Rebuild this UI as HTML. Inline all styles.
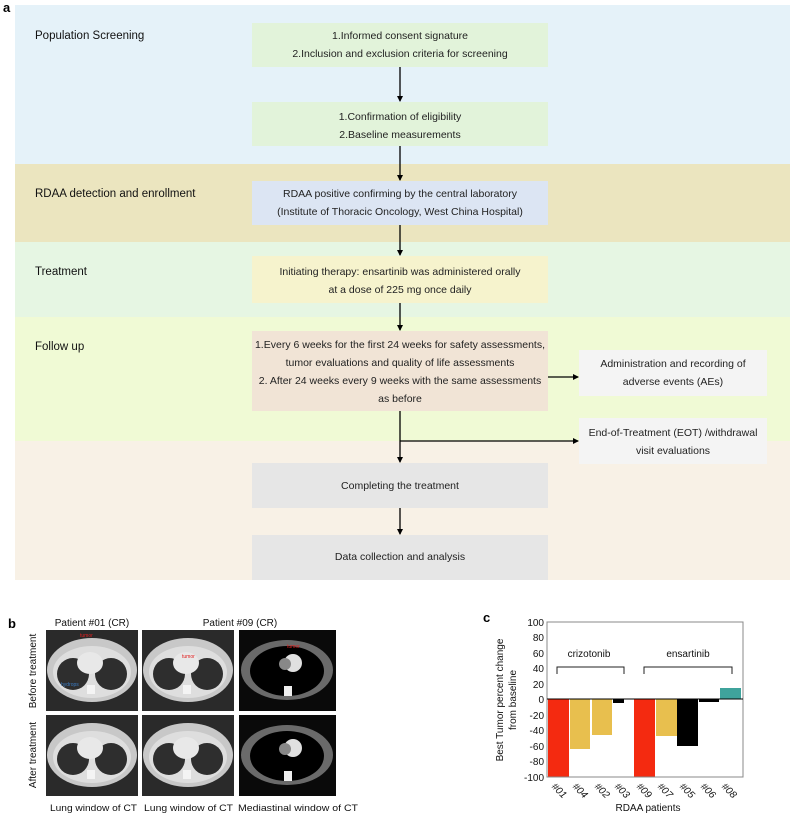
<!DOCTYPE html>
<html><head><meta charset="utf-8"><style>
html,body{margin:0;padding:0;background:#fff;}
svg{display:block;font-family:"Liberation Sans",Arial,sans-serif;}
</style></head><body>
<svg width="790" height="815" viewBox="0 0 790 815" xmlns="http://www.w3.org/2000/svg">
<defs>
<marker id="ah" markerWidth="6" markerHeight="6" refX="5" refY="3" orient="auto" markerUnits="userSpaceOnUse"><path d="M0,0 L6,3 L0,6 z" fill="#000"/></marker>
<g id="ctL">
 <rect x="0" y="0" width="92" height="81" fill="#2a2a2a"/>
 <ellipse cx="46" cy="40" rx="45" ry="32" fill="#c8c8c8"/>
 <ellipse cx="46" cy="42" rx="39" ry="26" fill="#dedede"/>
 <ellipse cx="27" cy="44" rx="16" ry="16" fill="#2e2e2e"/>
 <ellipse cx="65" cy="44" rx="16" ry="16" fill="#2e2e2e"/>
 <ellipse cx="44" cy="33" rx="13" ry="11" fill="#e8e8e8"/>
 <rect x="41" y="55" width="8" height="9" fill="#f4f4f4"/>
</g>
<g id="ctM">
 <rect x="0" y="0" width="97" height="81" fill="#0a0a0a"/>
 <ellipse cx="48" cy="40" rx="46" ry="30" fill="#6a6a6a"/>
 <ellipse cx="48" cy="41" rx="37" ry="25" fill="#000"/>
 <ellipse cx="54" cy="33" rx="9" ry="9" fill="#e0e0e0"/>
 <ellipse cx="46" cy="34" rx="6" ry="6" fill="#888"/>
 <rect x="45" y="56" width="8" height="10" fill="#eee"/>
</g>
</defs>
<text x="3" y="12" font-size="13" font-weight="bold">a</text>
<rect x="15" y="5" width="775" height="159" fill="#e5f2f9"/>
<rect x="15" y="164" width="775" height="78" fill="#ebe5bf"/>
<rect x="15" y="242" width="775" height="75" fill="#e6f6e3"/>
<rect x="15" y="317" width="775" height="124" fill="#f0fad5"/>
<rect x="15" y="441" width="775" height="139" fill="#f8f1e6"/>
<g font-size="11.5" fill="#111">
<text x="35" y="39">Population Screening</text>
<text x="35" y="197">RDAA detection and enrollment</text>
<text x="35" y="275">Treatment</text>
<text x="35" y="350">Follow up</text>
</g>
<rect x="252" y="23" width="296" height="44" fill="#e2f3da"/>
<rect x="252" y="102" width="296" height="44" fill="#e2f3da"/>
<rect x="252" y="181" width="296" height="44" fill="#dce5f3"/>
<rect x="252" y="256" width="296" height="47" fill="#f6f3cd"/>
<rect x="252" y="331" width="296" height="80" fill="#f1e4d6"/>
<rect x="252" y="463" width="296" height="45" fill="#e6e6e6"/>
<rect x="252" y="535" width="296" height="45" fill="#e6e6e6"/>
<rect x="579" y="350" width="188" height="46" fill="#f4f4f4"/>
<rect x="579" y="418" width="188" height="46" fill="#f4f4f4"/>
<g font-size="10.5" fill="#222" text-anchor="middle">
<text x="400" y="39">1.Informed consent signature</text>
<text x="400" y="57">2.Inclusion and exclusion criteria for screening</text>
<text x="400" y="120">1.Confirmation of eligibility</text>
<text x="400" y="138">2.Baseline measurements</text>
<text x="400" y="197">RDAA positive confirming by the central laboratory</text>
<text x="400" y="215">(Institute of Thoracic Oncology, West China Hospital)</text>
<text x="400" y="275">Initiating therapy: ensartinib was administered orally</text>
<text x="400" y="293">at a dose of 225 mg once daily</text>
<text x="400" y="348">1.Every 6 weeks for the first 24 weeks for safety assessments,</text>
<text x="400" y="366">tumor evaluations and quality of life assessments</text>
<text x="400" y="384">2. After 24 weeks every 9 weeks with the same assessments</text>
<text x="400" y="402">as before</text>
<text x="400" y="489">Completing the treatment</text>
<text x="400" y="560">Data collection and analysis</text>
<text x="673" y="367">Administration and recording of</text>
<text x="673" y="385">adverse events (AEs)</text>
<text x="673" y="436">End-of-Treatment (EOT) /withdrawal</text>
<text x="673" y="454">visit evaluations</text>
</g>
<g stroke="#000" stroke-width="1.3" fill="none" marker-end="url(#ah)">
<line x1="400" y1="67" x2="400" y2="101"/>
<line x1="400" y1="146" x2="400" y2="180"/>
<line x1="400" y1="225" x2="400" y2="255"/>
<line x1="400" y1="303" x2="400" y2="330"/>
<line x1="400" y1="411" x2="400" y2="462"/>
<line x1="400" y1="508" x2="400" y2="534"/>
<line x1="548" y1="377" x2="578" y2="377"/>
<line x1="400" y1="441" x2="578" y2="441"/>
</g>
<!-- panel b -->
<text x="8" y="628" font-size="13" font-weight="bold">b</text>
<g font-size="10" fill="#111" text-anchor="middle">
<text x="92" y="626">Patient #01 (CR)</text>
<text x="240" y="626">Patient #09 (CR)</text>
<text transform="translate(36,671) rotate(-90)">Before treatment</text>
<text transform="translate(36,755) rotate(-90)">After treatment</text>
</g>
<g font-size="9.3" fill="#111">
<text x="50" y="811" textLength="87" lengthAdjust="spacingAndGlyphs">Lung window of CT</text>
<text x="144" y="811" textLength="89" lengthAdjust="spacingAndGlyphs">Lung window of CT</text>
<text x="238" y="811" textLength="120" lengthAdjust="spacingAndGlyphs">Mediastinal window of CT</text>
</g>
<use href="#ctL" x="46" y="630"/>
<use href="#ctL" x="142" y="630" />
<use href="#ctM" x="239" y="630"/>
<use href="#ctL" x="46" y="715"/>
<use href="#ctL" x="142" y="715"/>
<use href="#ctM" x="239" y="715"/>
<g font-size="5" fill="#e02020"><text x="80" y="637">tumor</text><text x="182" y="658">tumor</text><text x="287" y="648">tumor</text></g>
<text x="61" y="686" font-size="5" fill="#3a7ac0">hydrops</text>
<!-- panel c -->
<text x="483" y="622" font-size="13" font-weight="bold">c</text>
<g font-size="10" fill="#111" text-anchor="end">
<text x="544" y="626">100</text><text x="544" y="641">80</text><text x="544" y="657">60</text><text x="544" y="672">40</text><text x="544" y="688">20</text><text x="544" y="703">0</text><text x="544" y="719">-20</text><text x="544" y="734">-40</text><text x="544" y="750">-60</text><text x="544" y="765">-80</text><text x="544" y="781">-100</text>
</g>
<g font-size="10" fill="#111" text-anchor="middle">
<text transform="translate(503,700) rotate(-90)">Best Tumor percent change</text>
<text transform="translate(516,700) rotate(-90)">from baseline</text>
<text x="589" y="657">crizotonib</text>
<text x="688" y="657">ensartinib</text>
<text x="648" y="811">RDAA patients</text>
</g>
<rect x="548" y="699" width="21" height="78" fill="#f42a10"/>
<rect x="570" y="699" width="20" height="50" fill="#e8bf4e"/>
<rect x="592" y="699" width="20" height="36" fill="#e8bf4e"/>
<rect x="613" y="699" width="11" height="4" fill="#000"/>
<rect x="634" y="699" width="21" height="78" fill="#f42a10"/>
<rect x="656" y="699" width="21" height="37" fill="#e8bf4e"/>
<rect x="677" y="699" width="21" height="47" fill="#000"/>
<rect x="699" y="699" width="20" height="3" fill="#000"/>
<rect x="720" y="688" width="21" height="11" fill="#3fa39c"/>
<rect x="547" y="622" width="196" height="155" fill="none" stroke="#888" stroke-width="1"/>
<line x1="547" y1="699" x2="743" y2="699" stroke="#000" stroke-width="1"/>
<g stroke="#222" stroke-width="1" fill="none">
<path d="M557,674 V667 H624 V674"/>
<path d="M644,674 V667 H732 V674"/>
</g>
<g font-size="10" fill="#111" font-style="italic">
<text transform="translate(551,787) rotate(45)">#01</text>
<text transform="translate(572,787) rotate(45)">#04</text>
<text transform="translate(594,787) rotate(45)">#02</text>
<text transform="translate(614,787) rotate(45)">#03</text>
<text transform="translate(636,787) rotate(45)">#09</text>
<text transform="translate(657,787) rotate(45)">#07</text>
<text transform="translate(679,787) rotate(45)">#05</text>
<text transform="translate(700,787) rotate(45)">#06</text>
<text transform="translate(721,787) rotate(45)">#08</text>
</g>
</svg>
</body></html>
